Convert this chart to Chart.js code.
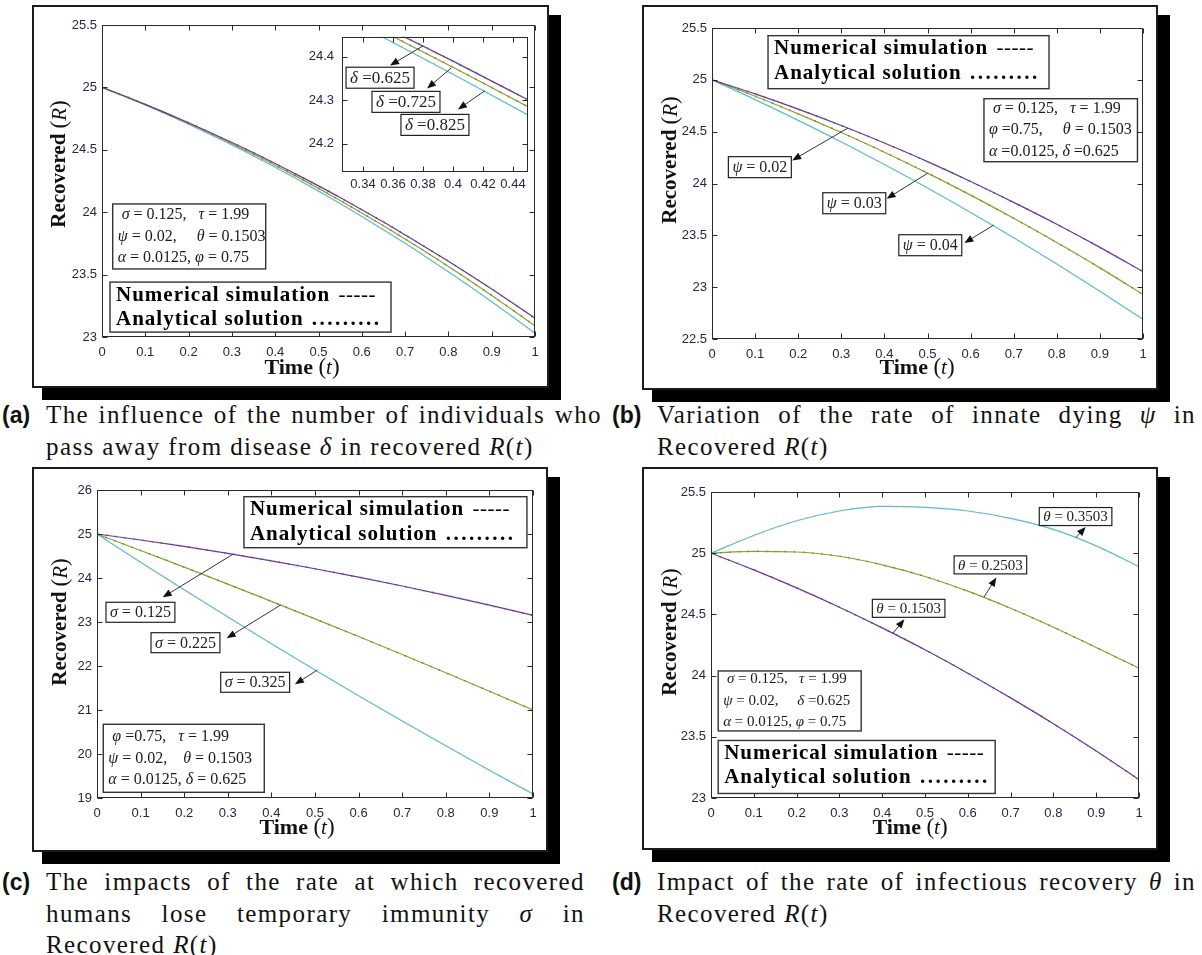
<!DOCTYPE html>
<html>
<head>
<meta charset="utf-8">
<script src="https://cdn.jsdelivr.net/npm/chart.js@4.4.1/dist/chart.umd.min.js"></script>
<style>
  html, body { margin: 0; padding: 0; background: #fff; }
  #page { position: relative; width: 1202px; height: 955px; overflow: hidden; }
  .frame { position: absolute; box-sizing: border-box; border: 2px solid #1c1c1c; background: #fff; box-shadow: 11px 11px 0 1px #000; }
  #page canvas { position: absolute; }
  .cap { position: absolute; font-family: 'Liberation Serif', 'Times New Roman', serif; font-size: 25px; line-height: 32px; color: #111; }
  .cap .tag { position: absolute; top: 0; font-family: 'Liberation Sans', Arial, sans-serif; font-weight: bold; font-size: 23px; line-height: 32px; letter-spacing: 0; }
  .cap .body { letter-spacing: 1.4px; }
  .cap .ln { text-align: justify; text-align-last: justify; }
  .cap .ln.last { text-align-last: left; }
</style>
</head>
<body>
<div id="page">
  <div class="cap" style="left:0;top:399px;"><span class="tag" style="left:2px">(a)</span>
    <div class="body" style="margin-left:46px;width:556px">
      <div class="ln">The influence of the number of individuals who</div>
      <div class="ln last">pass away from disease <i>δ</i> in recovered <i>R</i>(<i>t</i>)</div>
    </div>
  </div>
  <div class="cap" style="left:610px;top:399px;"><span class="tag" style="left:2px">(b)</span>
    <div class="body" style="margin-left:47px;width:539px">
      <div class="ln">Variation of the rate of innate dying <i>ψ</i> in</div>
      <div class="ln last">Recovered <i>R</i>(<i>t</i>)</div>
    </div>
  </div>
  <div class="cap" style="left:0;top:866px;line-height:31.5px"><span class="tag" style="left:2px">(c)</span>
    <div class="body" style="margin-left:46px;width:539px">
      <div class="ln">The impacts of the rate at which recovered</div>
      <div class="ln">humans lose temporary immunity <i>σ</i> in</div>
      <div class="ln last">Recovered <i>R</i>(<i>t</i>)</div>
    </div>
  </div>
  <div class="cap" style="left:610px;top:866px;line-height:31.5px"><span class="tag" style="left:2px">(d)</span>
    <div class="body" style="margin-left:47px;width:539px">
      <div class="ln">Impact of the rate of infectious recovery <i>θ</i> in</div>
      <div class="ln last">Recovered <i>R</i>(<i>t</i>)</div>
    </div>
  </div>
</div>
<script>
// ---- data ----
// (a) delta variation, sampled every 0.05
const tA = [0, 0.05, 0.1, 0.15, 0.2, 0.25, 0.3, 0.35, 0.4, 0.45, 0.5, 0.55, 0.6, 0.65, 0.7, 0.75, 0.8, 0.85, 0.9, 0.95, 1];
const rDelta0625 = [25, 24.933, 24.864, 24.792, 24.717, 24.639, 24.559, 24.476, 24.390, 24.301, 24.211, 24.117, 24.020, 23.921, 23.818, 23.714, 23.607, 23.497, 23.384, 23.268, 23.150];
const rDelta0725 = [25, 24.932, 24.862, 24.788, 24.711, 24.632, 24.549, 24.464, 24.376, 24.285, 24.191, 24.094, 23.994, 23.891, 23.785, 23.677, 23.565, 23.451, 23.333, 23.213, 23.090];
const rDelta0825 = [25, 24.931, 24.859, 24.783, 24.705, 24.623, 24.539, 24.451, 24.360, 24.266, 24.169, 24.069, 23.966, 23.860, 23.751, 23.638, 23.523, 23.404, 23.282, 23.158, 23.030];

// (b)-(d) sampled every 0.1
const tStep = [0, 0.1, 0.2, 0.3, 0.4, 0.5, 0.6, 0.7, 0.8, 0.9, 1];
const rPsi002 = [25, 24.864, 24.717, 24.559, 24.390, 24.211, 24.020, 23.818, 23.607, 23.384, 23.150];
const rPsi003 = [25, 24.842, 24.672, 24.492, 24.302, 24.100, 23.888, 23.664, 23.430, 23.186, 22.930];
const rPsi004 = [25, 24.809, 24.609, 24.401, 24.183, 23.957, 23.721, 23.477, 23.223, 22.961, 22.690];

const rSigma0125 = [25, 24.864, 24.717, 24.559, 24.390, 24.211, 24.020, 23.818, 23.607, 23.384, 23.150];
const rSigma0225 = [25, 24.626, 24.246, 23.860, 23.469, 23.072, 22.669, 22.260, 21.846, 21.426, 21.000];
const rSigma0325 = [25, 24.360, 23.732, 23.114, 22.506, 21.910, 21.324, 20.750, 20.186, 19.632, 19.090];

const rTheta01503 = [25, 24.864, 24.717, 24.559, 24.390, 24.211, 24.020, 23.818, 23.607, 23.384, 23.150];
const rTheta02503 = [25, 25.015, 25.010, 24.975, 24.905, 24.810, 24.690, 24.550, 24.395, 24.230, 24.060];
const rTheta03503 = [25, 25.145, 25.265, 25.345, 25.383, 25.375, 25.345, 25.285, 25.195, 25.060, 24.890];

// ticks
const xTicks = [0, 0.1, 0.2, 0.3, 0.4, 0.5, 0.6, 0.7, 0.8, 0.9, 1];
const yTicksA = [23, 23.5, 24, 24.5, 25, 25.5];
const yTicksB = [22.5, 23, 23.5, 24, 24.5, 25, 25.5];
const yTicksC = [19, 20, 21, 22, 23, 24, 25, 26];
const yTicksD = [23, 23.5, 24, 24.5, 25, 25.5];
const insetXTicks = [0.34, 0.36, 0.38, 0.4, 0.42, 0.44];
const insetYTicks = [24.2, 24.3, 24.4];

// texts
const legendLines = ['Numerical simulation', 'Analytical solution'];
const legendMarks = ['-----', '.........'];
const paramA = [' _σ_ = 0.125,   _τ_ = 1.99', '_ψ_ = 0.02,     _θ_ = 0.1503', '_α_ = 0.0125, _φ_ = 0.75'];
const paramB = [' _σ_ = 0.125,   _τ_ = 1.99', '_φ_ =0.75,     _θ_ = 0.1503', '_α_ =0.0125, _δ_ =0.625'];
const paramC = [' _φ_ =0.75,   _τ_ = 1.99', '_ψ_ = 0.02,    _θ_ = 0.1503', '_α_ = 0.0125, _δ_ = 0.625'];
const paramD = [' _σ_ = 0.125,   _τ_ = 1.99', '_ψ_ = 0.02,     _δ_ =0.625', '_α_ = 0.0125, _φ_ = 0.75'];

const SERIF = '"Liberation Serif", "Times New Roman", serif';
const SANS = '"Liberation Sans", Arial, sans-serif';
const TICK_COLOR = '#262648';
const LINE_COLORS = ['#7E2F8E', '#77AC30', '#4DBEEE'];
const DOT_COLORS = ['#0072BD', '#D95319', '#EDB120'];

const page = document.getElementById('page');

function addFrame(f) {
  const d = document.createElement('div');
  d.className = 'frame';
  Object.assign(d.style, { left: f.x + 'px', top: f.y + 'px', width: f.w + 'px', height: f.h + 'px' });
  page.appendChild(d);
}

function addCanvas(b) {
  const c = document.createElement('canvas');
  c.width = b.W; c.height = b.H;
  Object.assign(c.style, { left: b.L + 'px', top: b.T + 'px', width: b.W + 'px', height: b.H + 'px' });
  page.appendChild(c);
  return c;
}

// analytical (dotted) first so they sit on top of the solid numerical lines
function makeSets(t, curves) {
  const dotted = curves.map((ys, i) => ({
    data: t.map((x, j) => ({ x, y: ys[j] })),
    borderColor: DOT_COLORS[i], borderWidth: 1.6, borderDash: [1.2, 8],
    pointRadius: 0, fill: false, cubicInterpolationMode: 'monotone'
  }));
  const solid = curves.map((ys, i) => ({
    data: t.map((x, j) => ({ x, y: ys[j] })),
    borderColor: LINE_COLORS[i], borderWidth: 1.2,
    pointRadius: 0, fill: false, cubicInterpolationMode: 'monotone'
  }));
  return dotted.concat(solid);
}

// text with _italic_ parts
function richWidth(ctx, str, size, weight) {
  let w = 0;
  str.split('_').forEach((p, i) => {
    ctx.font = (i % 2 ? 'italic ' : weight + ' ') + size + 'px ' + SERIF;
    w += ctx.measureText(p).width;
  });
  return w;
}
function drawRich(ctx, str, x, y, size, weight) {
  ctx.textBaseline = 'middle';
  ctx.textAlign = 'left';
  str.split('_').forEach((p, i) => {
    ctx.font = (i % 2 ? 'italic ' : weight + ' ') + size + 'px ' + SERIF;
    ctx.fillText(p, x, y);
    x += ctx.measureText(p).width;
  });
}
function drawSegs(ctx, segs, cx, cy) {
  let w = 0;
  segs.forEach(s => { ctx.font = s[1] + ' ' + SERIF; w += ctx.measureText(s[0]).width; });
  let x = cx - w / 2;
  ctx.textBaseline = 'middle';
  ctx.textAlign = 'left';
  segs.forEach(s => { ctx.font = s[1] + ' ' + SERIF; ctx.fillText(s[0], x, cy); x += ctx.measureText(s[0]).width; });
}

function arrow(ctx, x1, y1, x2, y2) {
  const ang = Math.atan2(y2 - y1, x2 - x1), L = 9, W = 3.6;
  ctx.strokeStyle = '#333'; ctx.lineWidth = 1;
  ctx.beginPath(); ctx.moveTo(x1, y1); ctx.lineTo(x2 - Math.cos(ang) * L * 0.8, y2 - Math.sin(ang) * L * 0.8); ctx.stroke();
  ctx.fillStyle = '#111';
  ctx.beginPath();
  ctx.moveTo(x2, y2);
  ctx.lineTo(x2 - Math.cos(ang) * L - Math.sin(ang) * W, y2 - Math.sin(ang) * L + Math.cos(ang) * W);
  ctx.lineTo(x2 - Math.cos(ang) * L + Math.sin(ang) * W, y2 - Math.sin(ang) * L - Math.cos(ang) * W);
  ctx.closePath(); ctx.fill();
}

const decor = {
  id: 'decor',
  beforeDatasetsDraw(chart, args, o) {
    if (!o.bg) return;
    const a = chart.chartArea;
    chart.ctx.save();
    chart.ctx.fillStyle = '#fff';
    chart.ctx.fillRect(a.left, a.top, a.right - a.left, a.bottom - a.top);
    chart.ctx.restore();
  },
  afterDatasetsDraw(chart, args, o) {
    const ctx = chart.ctx, a = chart.chartArea, xs = chart.scales.x, ys = chart.scales.y;
    const px = v => xs.getPixelForValue(v), py = v => ys.getPixelForValue(v);
    ctx.save();
    // axes box and inward ticks
    ctx.strokeStyle = '#2a2a2a'; ctx.lineWidth = 1;
    const l = Math.round(a.left) + 0.5, r = Math.round(a.right) - 0.5;
    const t = Math.round(a.top) + 0.5, b = Math.round(a.bottom) - 0.5;
    ctx.strokeRect(l, t, r - l, b - t);
    ctx.beginPath();
    xs.ticks.forEach(k => {
      const x = Math.round(px(k.value)) + 0.5;
      ctx.moveTo(x, b); ctx.lineTo(x, b - 5);
      ctx.moveTo(x, t); ctx.lineTo(x, t + 5);
    });
    ys.ticks.forEach(k => {
      const y = Math.round(py(k.value)) + 0.5;
      ctx.moveTo(l, y); ctx.lineTo(l + 5, y);
      ctx.moveTo(r, y); ctx.lineTo(r - 5, y);
    });
    ctx.stroke();

    ctx.fillStyle = '#111';
    // axis titles
    if (o.ylab) {
      ctx.save();
      ctx.translate(o.ylab.x - o.ox, o.ylab.y - o.oy);
      ctx.rotate(-Math.PI / 2);
      drawSegs(ctx, [['Recovered ', 'bold 21px'], ['(', '23px'], ['R', 'italic 21px'], [')', '23px']], 0, 0);
      ctx.restore();
    }
    if (o.xlab) {
      drawSegs(ctx, [['Time ', 'bold 22px'], ['(', '23px'], ['t', 'italic 21px'], [')', '23px']], o.xlab.x - o.ox, o.xlab.y - o.oy);
    }

    // parameter box
    if (o.param) {
      const p = o.param, x = px(p.x), y = py(p.y);
      ctx.fillStyle = '#fff'; ctx.fillRect(x, y, p.w, p.h);
      ctx.strokeStyle = '#333'; ctx.lineWidth = 1.4; ctx.strokeRect(x, y, p.w, p.h);
      ctx.fillStyle = '#1a1a1a';
      p.lines.forEach((s, i) => drawRich(ctx, s, x + 5, y + p.h / 2 + (i - 1) * 21.5, p.size, 'normal'));
    }

    // legend box
    if (o.legend) {
      const g = o.legend, x = px(g.x), y = py(g.y);
      ctx.fillStyle = '#fff'; ctx.fillRect(x, y, g.w, g.h);
      ctx.strokeStyle = '#333'; ctx.lineWidth = 1.4; ctx.strokeRect(x, y, g.w, g.h);
      ctx.fillStyle = '#000';
      ctx.textBaseline = 'middle'; ctx.textAlign = 'left';
      legendLines.forEach((s, i) => {
        const yy = y + 13 + i * 24.5;
        ctx.letterSpacing = '1px';
        ctx.font = 'bold 21px ' + SERIF;
        ctx.fillText(s, x + 6, yy);
        const w = ctx.measureText(s + ' ').width;
        if (i === 0) { ctx.font = 'normal 21px ' + SERIF; ctx.letterSpacing = '0.5px'; }
        else { ctx.font = 'bold 21px ' + SERIF; ctx.letterSpacing = '2.5px'; }
        ctx.fillText(legendMarks[i], x + 6 + w + 2, yy);
      });
      ctx.letterSpacing = '0px';
    }

    // arrows and value labels
    (o.arrows || []).forEach(ar => arrow(ctx, px(ar[0]), py(ar[1]), px(ar[2]), py(ar[3])));
    (o.labels || []).forEach(lb => {
      const x = px(lb.x), y = py(lb.y);
      const w = richWidth(ctx, lb.text, o.labelSize, 'normal') + 8;
      ctx.fillStyle = '#fff'; ctx.fillRect(x, y, w, o.labelH);
      ctx.strokeStyle = '#222'; ctx.lineWidth = 1.2; ctx.strokeRect(x, y, w, o.labelH);
      ctx.fillStyle = '#222';
      drawRich(ctx, lb.text, x + 4, y + o.labelH / 2 + 1, o.labelSize, 'normal');
    });
    ctx.restore();
  }
};

function buildChart(box, area, xr, yr, xt, yt, sets, deco) {
  const canvas = addCanvas(box);
  deco.ox = box.L; deco.oy = box.T;
  return new Chart(canvas, {
    type: 'line',
    data: { datasets: sets },
    options: {
      responsive: false,
      animation: false,
      events: [],
      layout: { padding: { left: 0, top: area.t - box.T, right: box.L + box.W - area.r, bottom: 0 } },
      plugins: { legend: { display: false }, tooltip: { enabled: false }, decor: deco },
      scales: {
        x: {
          type: 'linear', min: xr[0], max: xr[1],
          grid: { display: false, drawTicks: false }, border: { display: false },
          afterBuildTicks: s => { s.ticks = xt.map(v => ({ value: v })); },
          afterFit: s => { s.height = box.T + box.H - area.b; },
          ticks: { padding: deco.xpad || 8, color: TICK_COLOR, font: { family: SANS, size: 13 }, callback: v => String(v), maxRotation: 0, autoSkip: false }
        },
        y: {
          type: 'linear', min: yr[0], max: yr[1],
          grid: { display: false, drawTicks: false }, border: { display: false },
          afterBuildTicks: s => { s.ticks = yt.map(v => ({ value: v })); },
          afterFit: s => { s.width = area.l - box.L; },
          ticks: { padding: deco.ypad || 5, color: TICK_COLOR, font: { family: SANS, size: 13 }, callback: v => String(v), autoSkip: false }
        }
      }
    },
    plugins: [decor]
  });
}

// ---- panel (a) ----
addFrame({ x: 32, y: 5, w: 517, h: 383 });
buildChart({ L: 34, T: 7, W: 513, H: 379 }, { l: 102, t: 25, r: 535, b: 337 }, [0, 1], [23, 25.5], xTicks, yTicksA,
  makeSets(tA, [rDelta0625, rDelta0725, rDelta0825]),
  {
    ylab: { x: 60, y: 164 }, xlab: { x: 302, y: 368 },
    param: { x: 0.0247, y: 24.066, w: 153, h: 65, size: 16, lines: paramA },
    legend: { x: 0.0185, y: 23.44, w: 281, h: 50 }
  });
// inset of (a)
buildChart({ L: 296, T: 21, W: 238, H: 177 }, { l: 342, t: 31, r: 528, b: 172 }, [0.326, 0.45], [24.135, 24.446], insetXTicks, insetYTicks,
  makeSets(tA, [rDelta0625, rDelta0725, rDelta0825]),
  {
    bg: true, xpad: 5, ypad: 8, labelSize: 17, labelH: 21,
    labels: [
      { x: 0.3287, y: 24.376, text: '_δ_ =0.625' },
      { x: 0.346, y: 24.3205, text: '_δ_ =0.725' },
      { x: 0.3653, y: 24.2675, text: '_δ_ =0.825' }
    ],
    arrows: [
      [0.38, 24.425, 0.358, 24.38],
      [0.3987, 24.374, 0.3827, 24.327],
      [0.4213, 24.322, 0.4033, 24.279]
    ]
  });

// ---- panel (b) ----
addFrame({ x: 642, y: 5, w: 516, h: 385 });
buildChart({ L: 644, T: 7, W: 512, H: 381 }, { l: 712, t: 28, r: 1143, b: 339 }, [0, 1], [22.5, 25.5], xTicks, yTicksB,
  makeSets(tStep, [rPsi002, rPsi003, rPsi004]),
  {
    ylab: { x: 671, y: 160 }, xlab: { x: 917, y: 368 },
    legend: { x: 0.13, y: 25.426, w: 281, h: 53 },
    param: { x: 0.631, y: 24.818, w: 153.5, h: 63, size: 16, lines: paramB },
    labelSize: 16, labelH: 21,
    labels: [
      { x: 0.038, y: 24.259, text: '_ψ_ = 0.02' },
      { x: 0.257, y: 23.911, text: '_ψ_ = 0.03' },
      { x: 0.4334, y: 23.506, text: '_ψ_ = 0.04' }
    ],
    arrows: [
      [0.3155, 24.535, 0.186, 24.223],
      [0.5007, 24.10, 0.405, 23.853],
      [0.654, 23.60, 0.5856, 23.426]
    ]
  });

// ---- panel (c) ----
addFrame({ x: 32, y: 467, w: 516, h: 385 });
buildChart({ L: 34, T: 469, W: 512, H: 381 }, { l: 97, t: 490, r: 533, b: 798 }, [0, 1], [19, 26], xTicks, yTicksC,
  makeSets(tStep, [rSigma0125, rSigma0225, rSigma0325]),
  {
    ylab: { x: 61, y: 622 }, xlab: { x: 297, y: 828 },
    legend: { x: 0.337, y: 25.848, w: 283, h: 51 },
    param: { x: 0.0144, y: 20.675, w: 161, h: 68, size: 16, lines: paramC },
    labelSize: 16, labelH: 20,
    labels: [
      { x: 0.0206, y: 23.448, text: '_σ_ = 0.125' },
      { x: 0.1239, y: 22.757, text: '_σ_ = 0.225' },
      { x: 0.2837, y: 21.857, text: '_σ_ = 0.325' }
    ],
    arrows: [
      [0.3126, 24.545, 0.1507, 23.561],
      [0.4213, 23.386, 0.2975, 22.63],
      [0.5053, 21.909, 0.454, 21.584]
    ]
  });

// ---- panel (d) ----
addFrame({ x: 642, y: 467, w: 516, h: 383 });
buildChart({ L: 644, T: 469, W: 512, H: 379 }, { l: 711, t: 492, r: 1139, b: 798 }, [0, 1], [23, 25.5], xTicks, yTicksD,
  makeSets(tStep, [rTheta01503, rTheta02503, rTheta03503]),
  {
    ylab: { x: 671, y: 632 }, xlab: { x: 910, y: 828 },
    param: { x: 0.0168, y: 24.038, w: 143, h: 60, size: 15, lines: paramD },
    legend: { x: 0.0168, y: 23.47, w: 277, h: 53 },
    labelSize: 15, labelH: 18,
    labels: [
      { x: 0.767, y: 25.373, text: '_θ_ = 0.3503' },
      { x: 0.568, y: 24.978, text: '_θ_ = 0.2503' },
      { x: 0.377, y: 24.623, text: '_θ_ = 0.1503' }
    ],
    arrows: [
      [0.852, 25.125, 0.8755, 25.215],
      [0.6375, 24.639, 0.6667, 24.802],
      [0.4245, 24.345, 0.452, 24.46]
    ]
  });
</script>
</body>
</html>
